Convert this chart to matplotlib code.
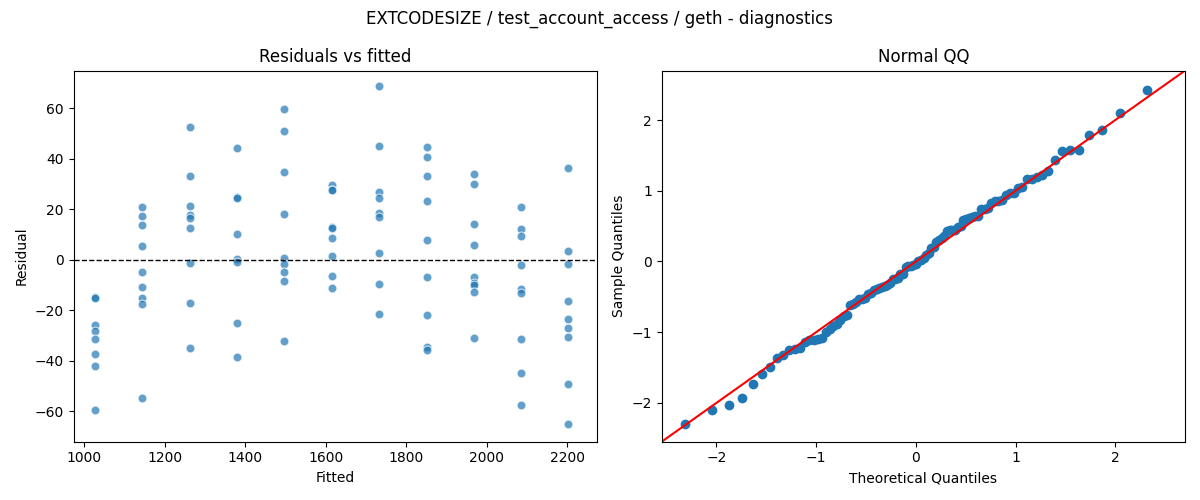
import numpy as np
import matplotlib
matplotlib.use("Agg")
import matplotlib.pyplot as plt
from statistics import NormalDist

fitted_levels = [1027, 1144, 1262, 1380, 1497, 1614, 1732, 1850, 1967, 2084, 2202]
residual_groups = [
    [-14.7, -15.0, -25.8, -28.0, -31.4, -37.4, -42.0, -59.6],
    [21.0, 17.6, 13.9, 5.6, -4.8, -10.7, -15.1, -17.5, -54.5],
    [52.8, 33.4, 21.5, 18.0, 16.7, 12.7, -1.2, -17.0, -34.9],
    [44.5, 25.0, 24.5, 10.3, 0.4, -0.9, -25.0, -38.5],
    [59.6, 50.9, 35.0, 18.3, 0.8, -1.7, -4.7, -8.5, -32.3],
    [29.5, 27.8, 27.6, 12.9, 12.6, 8.7, 1.6, -6.5, -11.0],
    [69.0, 45.0, 27.0, 24.6, 18.4, 17.0, 2.7, -9.5, -21.4],
    [44.9, 40.9, 33.4, 23.4, 7.9, -6.8, -21.8, -34.6, -35.5],
    [34.2, 30.2, 14.3, 6.1, -6.7, -9.1, -10.0, -12.7, -30.9],
    [21.0, 12.3, 9.5, -2.0, -11.4, -12.9, -31.4, -44.9, -57.6],
    [36.5, 3.6, -1.6, -16.3, -23.5, -27.0, -30.5, -49.2, -65.0],
]

fitted = np.concatenate([[f] * len(g) for f, g in zip(fitted_levels, residual_groups)])
resid = np.concatenate([np.array(g) for g in residual_groups])

fig, (ax1, ax2) = plt.subplots(1, 2, figsize=(12, 5), dpi=100)
fig.suptitle("EXTCODESIZE / test_account_access / geth - diagnostics")

ax1.scatter(fitted, resid, s=40, color="#1f77b4", alpha=0.7, edgecolors="white", linewidths=0.8)
ax1.axhline(0, color="black", linestyle="--", linewidth=1)
ax1.set_xlim(973, 2273)
ax1.set_ylim(-72, 75)
ax1.set_xlabel("Fitted")
ax1.set_ylabel("Residual")
ax1.set_title("Residuals vs fitted")

z = np.sort((resid - resid.mean()) / resid.std(ddof=1))
n = len(z)
nd = NormalDist()
theo = np.array([nd.inv_cdf(i / (n + 1)) for i in range(1, n + 1)])
ax2.plot(theo, z, "o", color="#1f77b4", markersize=6)
ax2.set_xlim(-2.55, 2.7)
ax2.set_ylim(-2.55, 2.7)
ax2.plot([-3, 3], [-3, 3], color="red")
ax2.set_xlabel("Theoretical Quantiles")
ax2.set_ylabel("Sample Quantiles")
ax2.set_title("Normal QQ")

fig.tight_layout()
fig.savefig("out.png")
